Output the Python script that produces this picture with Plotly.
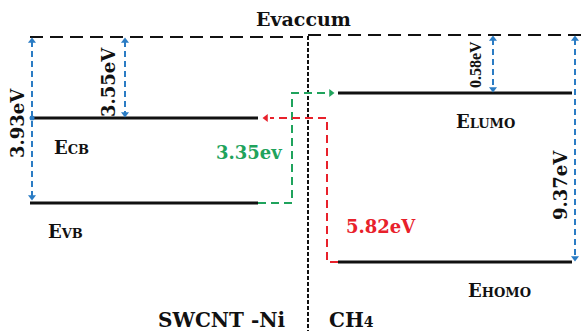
import plotly.graph_objects as go

# ---- energy data (eV) ----
gap_values = [3.93, 3.55, 0.58, 9.37]        # vacuum level to band edge
transfer_values = [3.35, 5.82]               # SWCNT-Ni -> CH4 , CH4 -> SWCNT-Ni
material_labels = ["SWCNT -Ni", "CH<span style='font-size:14px'>4</span>"]
level_labels = ["E<span style='font-size:13px'>CB</span>",
                "E<span style='font-size:13px'>VB</span>",
                "E<span style='font-size:13px'>LUMO</span>",
                "E<span style='font-size:13px'>HOMO</span>"]
vacuum_label = "Evaccum"

# ---- schematic layout (diagram units, not to scale) ----
Y_VAC, Y_CB, Y_VB, Y_LUMO, Y_HOMO = 36, 118, 203, 93, 262
X_L0, X_L1 = 30, 258          # SWCNT-Ni levels
X_R0, X_R1 = 338, 572         # CH4 levels
X_SEP = 308                   # interface
W, H = 581, 331

BLACK = "#111111"
BLUE = "#2b7cc4"
GREEN = "#1fa35c"
RED = "#e8212b"
FONT = "DejaVu Serif"

fig = go.Figure()


def line(xs, ys, color, width, dash="solid"):
    fig.add_trace(go.Scatter(x=xs, y=ys, mode="lines", hoverinfo="skip",
                             line=dict(color=color, width=width, dash=dash)))


def heads(xs, ys, symbols, color, size=7):
    fig.add_trace(go.Scatter(x=xs, y=ys, mode="markers", hoverinfo="skip",
                             marker=dict(symbol=symbols, color=color, size=size,
                                         line=dict(width=0))))


# vacuum level and interface
line([X_L0, X_SEP], [Y_VAC + 1, Y_VAC + 1], BLACK, 2, "13px,7px")
line([X_SEP, W], [Y_VAC - 1, Y_VAC - 1], BLACK, 2, "13px,7px")
line([X_SEP, X_SEP], [Y_VAC, H], BLACK, 2, "4px,2px")

# band edges
line([X_L0, X_L1], [Y_CB, Y_CB], BLACK, 3)
line([X_L0, X_L1], [Y_VB, Y_VB], BLACK, 3)
line([X_R0, X_R1], [Y_LUMO, Y_LUMO], BLACK, 3)
line([X_R0, X_R1], [Y_HOMO, Y_HOMO], BLACK, 3)

# vacuum-to-level arrows
arrow_x = [32, 125, 493, 575]
arrow_bottom = [Y_VB - 2, Y_CB, Y_LUMO, Y_HOMO]
arrow_top = [Y_VAC + 1, Y_VAC + 1, Y_VAC - 1, Y_VAC - 1]
for x, yt, yb in zip(arrow_x, arrow_top, arrow_bottom):
    line([x, x], [yt + 4, yb - 4], BLUE, 2, "6px,4px")
    heads([x, x], [yt + 4, yb - 4], ["triangle-up", "triangle-down"], BLUE, 7)
heads([arrow_x[0]], [Y_CB], ["circle"], BLUE, 5)

# charge transfer paths
gx = 292
line([X_L1, gx, gx, 327], [Y_VB, Y_VB, Y_LUMO, Y_LUMO], GREEN, 2, "8px,5px")
heads([331], [Y_LUMO], ["triangle-right"], GREEN, 7)
rx = 327
line([X_R0, rx, rx, 270], [Y_HOMO, Y_HOMO, Y_CB, Y_CB], RED, 2, "8px,5px")
heads([266], [Y_CB], ["triangle-left"], RED, 7)

ann = []


def text(x, y, s, size, color=BLACK, xanchor="left", angle=0, family=FONT, bold=True):
    ann.append(dict(x=x, y=y, xref="x", yref="y", showarrow=False,
                    text=f"<b>{s}</b>" if bold else s, textangle=angle,
                    xanchor=xanchor, yanchor="middle",
                    font=dict(family=family, size=size, color=color)))


text(303, 19, vacuum_label, 19, xanchor="center")
text(52, 147, level_labels[0], 18)
text(46, 231, level_labels[1], 18)
text(454, 121, level_labels[2], 18)
text(466, 290, level_labels[3], 18)
text(288, 320, material_labels[0], 20, xanchor="right")
text(327, 320, material_labels[1], 20)

text(17, 123, f"{gap_values[0]:.2f}eV", 18, xanchor="center", angle=-90)
text(108, 82, f"{gap_values[1]:.2f}eV", 18, xanchor="center", angle=-90)
text(475, 65, f"{gap_values[2]:.2f}eV", 16, xanchor="center", angle=-90,
     family="Liberation Serif")
text(560, 185, f"{gap_values[3]:.2f}eV", 18, xanchor="center", angle=-90)

text(214, 152, f"{transfer_values[0]:.2f}ev", 18, color=GREEN)
text(344, 226, f"{transfer_values[1]:.2f}eV", 18, color=RED)

fig.update_layout(
    width=W, height=H, margin=dict(l=0, r=0, t=0, b=0),
    paper_bgcolor="white", plot_bgcolor="white", showlegend=False,
    xaxis=dict(range=[0, W], visible=False, fixedrange=True),
    yaxis=dict(range=[H, 0], visible=False, fixedrange=True),
    annotations=ann,
)

fig.write_html("out.html")
